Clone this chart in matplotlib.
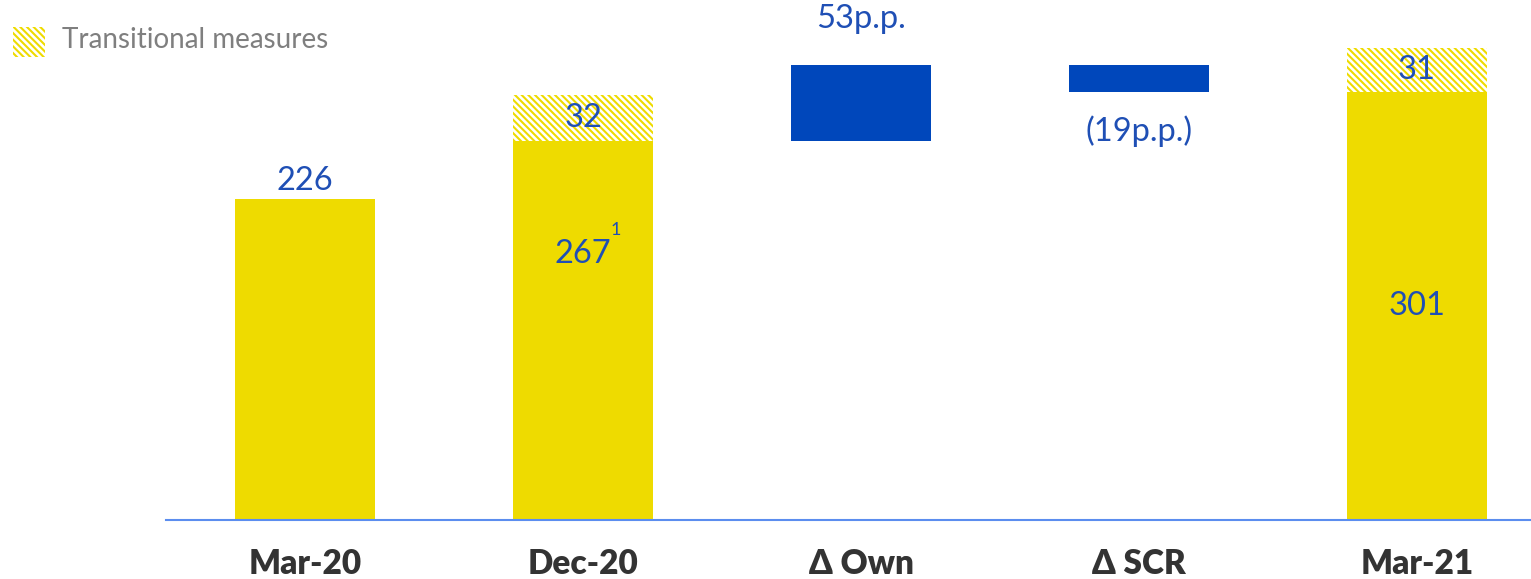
import matplotlib.pyplot as plt
from matplotlib.patches import Rectangle

plt.rcParams['font.family'] = ['Lato', 'DejaVu Sans']
plt.rcParams['hatch.linewidth'] = 1.5

# solvency ratio bridge (%)
categories = ['Mar-20', 'Dec-20', '\u0394 Own', '\u0394 SCR', 'Mar-21']
base_values = [226, 267, None, None, 301]
transitional = [None, 32, None, None, 31]
deltas = [None, None, 53, -19, None]

yellow = '#EEDB00'
blue = '#0047BB'
label_blue = '#1F4FB5'
hatch = '\\\\\\\\\\'
lab_size = 23.5

fig = plt.figure(figsize=(15.31, 5.79), dpi=100)
ax = fig.add_axes([166 / 1531, 59 / 579, 1365 / 1531, 520 / 579])

x = list(range(len(categories)))
width = 0.505

# totals with transitional measures stacked on top
for i, v in enumerate(base_values):
    if v is None:
        continue
    ax.bar(i, v, width=width, color=yellow, linewidth=0)
    t = transitional[i]
    if t is not None:
        ax.bar(i, t, bottom=v, width=width, color='white', edgecolor=yellow,
               hatch=hatch, linewidth=0)
        ax.text(i, v + t / 2, str(t), ha='center', va='center',
                fontsize=lab_size, color=label_blue)

# floating deltas
running = base_values[1]
for i, d in enumerate(deltas):
    if d is None:
        continue
    ax.bar(i, d, bottom=running, width=width, color=blue, linewidth=0)
    if d >= 0:
        ax.text(i, running + d + 22, '%dp.p.' % d, ha='center', va='bottom',
                fontsize=lab_size, color=label_blue)
    else:
        ax.text(i, running + d - 16, '(%dp.p.)' % -d, ha='center', va='top',
                fontsize=lab_size, color=label_blue)
    running += d

# value labels on the solid bars
ax.text(0, base_values[0] + 2, str(base_values[0]), ha='center', va='bottom',
        fontsize=lab_size, color=label_blue)
ax.text(1, 187, str(base_values[1]), ha='center', va='center',
        fontsize=lab_size, color=label_blue)
ax.text(1.1, 204, '1', ha='left', va='center', fontsize=13, color=label_blue)
ax.text(4, base_values[4] / 2, str(base_values[4]), ha='center', va='center',
        fontsize=lab_size, color=label_blue)

ax.set_xlim(-0.5, 4.41)
ax.set_ylim(0, 366)
ax.set_xticks(x)
ax.set_xticklabels(categories, fontsize=24, fontweight='heavy', color='#333333')
ax.tick_params(axis='x', length=0, pad=20)
ax.set_yticks([])
for side in ['top', 'right', 'left']:
    ax.spines[side].set_visible(False)
ax.spines['bottom'].set_color('#5B8DEF')
ax.spines['bottom'].set_linewidth(1.5)

# legend
fig.patches.append(Rectangle((13 / 1531, 1 - 57 / 579), 32 / 1531, 30 / 579,
                             transform=fig.transFigure, facecolor='white',
                             edgecolor=yellow, hatch=hatch, linewidth=0))
fig.text(62 / 1531, 1 - 40 / 579, 'Transitional measures', fontsize=20,
         color='#7F7F7F', va='center', ha='left')

fig.savefig('out.png', dpi=100)
